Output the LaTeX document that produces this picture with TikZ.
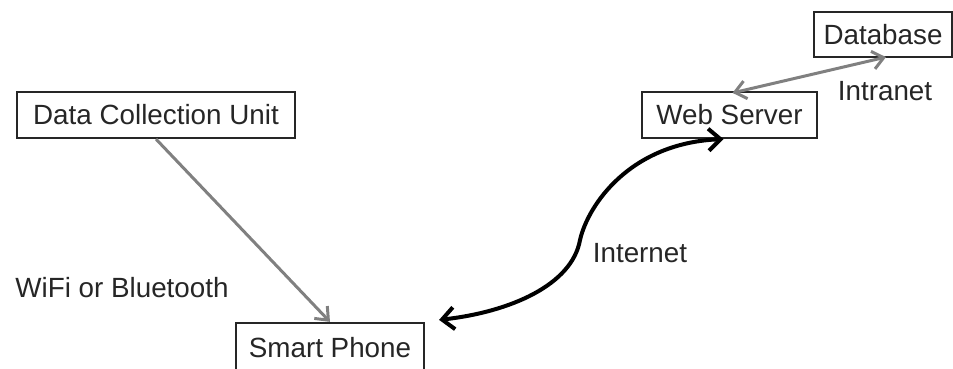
\documentclass[tikz,border=0pt]{standalone}
\usepackage{fontspec}
\setmainfont{Liberation Sans}
\usetikzlibrary{arrows.meta}
\begin{document}
\begin{tikzpicture}[x=1pt,y=-1pt,
  box/.style={draw=black!85,line width=2.2pt,inner sep=0pt,text=black!85,font=\fontsize{27.8}{30}\selectfont},
  lbl/.style={inner sep=0pt,text=black!85,font=\fontsize{27.8}{30}\selectfont},
  grayarrow/.style={draw=black!50,line width=3pt,arrows={-Straight Barb[length=11pt,width=18pt,line width=3pt]}},
  grayboth/.style={draw=black!50,line width=3pt,arrows={Straight Barb[length=11pt,width=18pt,line width=3pt]-Straight Barb[length=11pt,width=18pt,line width=3pt]}},
  blackboth/.style={draw=black,line width=4pt,arrows={Straight Barb[length=12pt,width=22pt,line width=4pt]-Straight Barb[length=12pt,width=22pt,line width=4pt]}}]
\useasboundingbox (0,0) rectangle (953,369);
\begin{scope}
\clip (0,0) rectangle (953,369);
\node[box,minimum width=278pt,minimum height=46pt] (dcu) at (156,115) {Data Collection Unit};
\node[box,minimum width=188pt,minimum height=52pt,text depth=0pt] (sp) at (330,349) {\raisebox{3pt}{Smart Phone}};
\node[box,minimum width=175pt,minimum height=46pt] (ws) at (729.5,115) {Web Server};
\node[box,minimum width=138pt,minimum height=45pt] (db) at (883,34.5) {Database};
\end{scope}
\node[lbl] (intra) at (885,91) {Intranet};
\node[lbl] (inter) at (640,253) {Internet};
\node[lbl] (wifi) at (122,288) {WiFi or Bluetooth};
\coordinate (mid) at (580,240);
\draw[grayarrow] (dcu.south) -- (sp.north);
\draw[grayboth] ([xshift=3pt,yshift=-2pt]ws.north) -- ([xshift=3pt,yshift=1pt]db.south);
\draw[blackboth] ([xshift=14pt,yshift=2pt]sp.north east) .. controls (510,312) and (572,285) .. (mid)
  .. controls (588,205) and (630,143) .. ([xshift=-6pt]ws.south);
\end{tikzpicture}
\end{document}
